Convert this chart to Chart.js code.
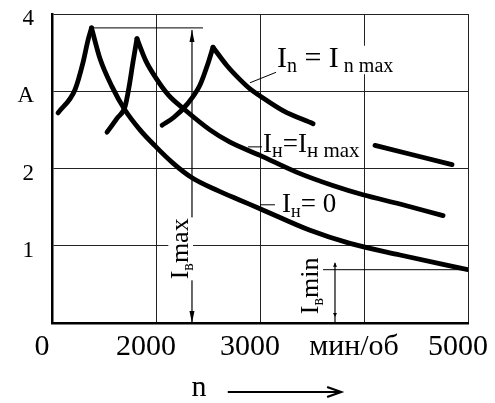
<!DOCTYPE html>
<html>
<head>
<meta charset="utf-8">
<script src="https://cdn.jsdelivr.net/npm/chart.js@4"></script>
<style>
  body { margin: 0; background: #fff; }
  #wrap { width: 495px; height: 403px; position: relative; }
</style>
</head>
<body>
<div id="wrap"><canvas id="chart"></canvas></div>
<script>
// axis ticks
const xTickValues = [1000, 2000, 3000, 4000, 5000];
const xTickLabels = ['0', '2000', '3000', 'мин/об', '5000'];
const yTickValues = [0, 1, 2, 3, 4];
const yTickLabels = ['', '1', '2', 'A', '4'];

// I_н = 0 (lowest curve): rising branch and falling branch share the peak
const nZeroUp = [1058, 1221, 1298, 1346, 1380];
const iZeroUp = [2.72, 3.02, 3.37, 3.66, 3.82];
const nZeroDown = [1380, 1462, 1577, 1700, 1846, 2000, 2163, 2346, 2600, 2808, 3000, 3481, 3865, 4346, 5000];
const iZeroDown = [3.82, 3.42, 3.06, 2.76, 2.50, 2.28, 2.07, 1.88, 1.71, 1.59, 1.48, 1.20, 1.03, 0.88, 0.69];

// I_н = I_н max (middle curve)
const nMidUp = [1529, 1625, 1702, 1740, 1779, 1817];
const iMidUp = [2.47, 2.65, 2.80, 3.05, 3.38, 3.68];
const nMidDown = [1817, 1900, 2000, 2120, 2260, 2519, 2712, 3000, 3356, 3700, 3990, 4346, 4760];
const iMidDown = [3.68, 3.40, 3.17, 2.95, 2.78, 2.50, 2.34, 2.17, 1.95, 1.78, 1.66, 1.54, 1.39];

// I_n = I_n max (upper curve, broken by the label)
const nTopUp = [2058, 2170, 2298, 2423, 2500, 2548];
const iTopUp = [2.56, 2.66, 2.83, 3.08, 3.36, 3.57];
const nTopDown = [2548, 2683, 2808, 2904, 3000, 3221, 3510, 3800, 4106, 4846];
const iTopDown = [3.57, 3.33, 3.15, 3.03, 2.94, 2.75, 2.58, null, 2.30, 2.05];

// reference marks: I_в max and I_в min
const iMaxPeak = 3.82;
const nMaxArrow = 2346;
const nMaxLineEnd = 2452;
const iMinLevel = 0.69;
const nMinLineStart = 3606;
const nMinArrow = 3721;

const serif = '"Liberation Serif", "Times New Roman", serif';

function toPoints(xs, ys) {
  return xs.map((x, i) => ({ x: x, y: ys[i] }));
}

function curve(xs, ys) {
  return {
    data: toPoints(xs, ys),
    borderColor: '#000',
    borderWidth: 4.8,
    pointRadius: 0,
    cubicInterpolationMode: 'monotone',
    spanGaps: false,
    borderCapStyle: 'round'
  };
}

// draws a run of text pieces: [text, size, dy]
function richWidth(ctx, parts) {
  let w = 0;
  parts.forEach(p => { ctx.font = p[1] + 'px ' + serif; w += ctx.measureText(p[0]).width; });
  return w;
}
function drawRich(ctx, x, y, parts) {
  let cx = x;
  parts.forEach(p => {
    ctx.font = p[1] + 'px ' + serif;
    ctx.fillText(p[0], cx, y + (p[2] || 0));
    cx += ctx.measureText(p[0]).width;
  });
}
function labelAt(ctx, x, y, parts, size) {
  const w = richWidth(ctx, parts);
  ctx.fillStyle = '#fff';
  ctx.fillRect(x - 1, y - size * 0.72, w + 2, size * 0.95);
  ctx.fillStyle = '#000';
  ctx.textBaseline = 'alphabetic';
  ctx.textAlign = 'left';
  drawRich(ctx, x, y, parts);
}
function vLabelAt(ctx, cx, cy, parts, size) {
  ctx.save();
  ctx.translate(cx, cy);
  ctx.rotate(-Math.PI / 2);
  const w = richWidth(ctx, parts);
  ctx.fillStyle = '#fff';
  ctx.fillRect(-w / 2 - 1, -size * 0.45, w + 2, size * 0.95);
  ctx.fillStyle = '#000';
  ctx.textBaseline = 'alphabetic';
  ctx.textAlign = 'left';
  drawRich(ctx, -w / 2, size * 0.3, parts);
  ctx.restore();
}
function line(ctx, x1, y1, x2, y2, w) {
  ctx.beginPath();
  ctx.lineWidth = w;
  ctx.moveTo(x1, y1);
  ctx.lineTo(x2, y2);
  ctx.stroke();
}
function arrowHead(ctx, x, y, dir, len, half) {
  // dir: 1 pointing down, -1 pointing up
  ctx.beginPath();
  ctx.moveTo(x, y);
  ctx.lineTo(x - half, y - dir * len);
  ctx.lineTo(x + half, y - dir * len);
  ctx.closePath();
  ctx.fill();
}

const notes = {
  id: 'notes',
  beforeDatasetsDraw(chart) {
    const ctx = chart.ctx;
    const xs = chart.scales.x, ys = chart.scales.y;
    const X = v => xs.getPixelForValue(v), Y = v => ys.getPixelForValue(v);
    ctx.save();
    ctx.strokeStyle = '#000';
    ctx.fillStyle = '#000';

    // I_в max
    line(ctx, X(1385), Y(iMaxPeak), X(nMaxLineEnd), Y(iMaxPeak), 1);
    line(ctx, X(nMaxArrow), Y(iMaxPeak) + 2, X(nMaxArrow), Y(0), 1.2);
    arrowHead(ctx, X(nMaxArrow), Y(iMaxPeak) + 2, -1, 12, 2.5);
    arrowHead(ctx, X(nMaxArrow), Y(0), 1, 12, 2.5);
    vLabelAt(ctx, X(2231), Y(0.96), [['I', 26], ['в', 16, 5], ['max', 26]], 26);

    // I_в min
    line(ctx, X(nMinLineStart), Y(iMinLevel), X(5000), Y(iMinLevel), 1);
    line(ctx, X(nMinArrow), Y(iMinLevel) - 7, X(nMinArrow), Y(0), 1.2);
    arrowHead(ctx, X(nMinArrow), Y(iMinLevel) - 7, -1, 4, 2);
    arrowHead(ctx, X(nMinArrow), Y(0) - 6, 1, 4, 2);
    vLabelAt(ctx, X(3481), Y(0.48), [['I', 26], ['в', 16, 5], ['min', 26]], 26);

    // curve labels
    line(ctx, X(2904), Y(3.11), X(3163), Y(3.25), 1);
    labelAt(ctx, X(3163), Y(3.31), [['I', 30], ['n', 20, 5], [' = ', 30], ['I', 30], [' n max', 20, 5]], 30);
    line(ctx, X(2885), Y(2.28), X(3029), Y(2.28), 1);
    labelAt(ctx, X(3029), Y(2.21), [['I', 27], ['н', 20, 5], ['=', 27], ['I', 27], ['н max', 21, 5]], 27);
    line(ctx, X(3000), Y(1.53), X(3144), Y(1.53), 1);
    labelAt(ctx, X(3212), Y(1.44), [['I', 27], ['н', 18, 5], ['= 0', 27]], 27);

    // n ---->
    const by = chart.chartArea.bottom;
    ctx.font = '30px ' + serif;
    ctx.textBaseline = 'alphabetic';
    ctx.fillText('n', X(2400) - 6, by + 73);
    const ax1 = X(2690), ax2 = X(3780);
    line(ctx, ax1, by + 69, ax2, by + 69, 2.2);
    ctx.beginPath();
    ctx.lineWidth = 2.2;
    ctx.moveTo(ax2 - 14, by + 64);
    ctx.lineTo(ax2, by + 69);
    ctx.lineTo(ax2 - 14, by + 74);
    ctx.stroke();
    ctx.restore();
  }
};

new Chart(document.getElementById('chart'), {
  type: 'line',
  data: {
    datasets: [
      curve(nZeroUp, iZeroUp), curve(nZeroDown, iZeroDown),
      curve(nMidUp, iMidUp), curve(nMidDown, iMidDown),
      curve(nTopUp, iTopUp), curve(nTopDown, iTopDown)
    ]
  },
  options: {
    responsive: true,
    maintainAspectRatio: false,
    animation: false,
    layout: { padding: { top: 14, right: 27, left: 0, bottom: 0 } },
    plugins: { legend: { display: false }, tooltip: { enabled: false } },
    scales: {
      x: {
        type: 'linear',
        min: 1000,
        max: 5000,
        afterFit: s => { s.height = 80; s.paddingLeft = 0; s.paddingRight = 0; },
        afterBuildTicks: s => { s.ticks = xTickValues.map(v => ({ value: v })); },
        ticks: {
          autoSkip: false,
          maxRotation: 0,
          padding: 6,
          labelOffset: -10,
          color: '#000',
          font: { family: serif, size: 30 },
          callback: v => xTickLabels[xTickValues.indexOf(v)]
        },
        grid: { color: '#222', lineWidth: 1, drawTicks: false },
        border: { color: '#000', width: 2.5 }
      },
      y: {
        min: 0,
        max: 4,
        afterFit: s => { s.width = 52; s.paddingTop = 0; s.paddingBottom = 0; },
        afterBuildTicks: s => { s.ticks = yTickValues.map(v => ({ value: v })); },
        ticks: {
          padding: 18,
          labelOffset: 5,
          color: '#000',
          font: { family: serif, size: 23 },
          callback: v => yTickLabels[yTickValues.indexOf(v)]
        },
        grid: { color: '#222', lineWidth: 1, drawTicks: false },
        border: { color: '#000', width: 2.5 }
      }
    }
  },
  plugins: [notes]
});
</script>
</body>
</html>
